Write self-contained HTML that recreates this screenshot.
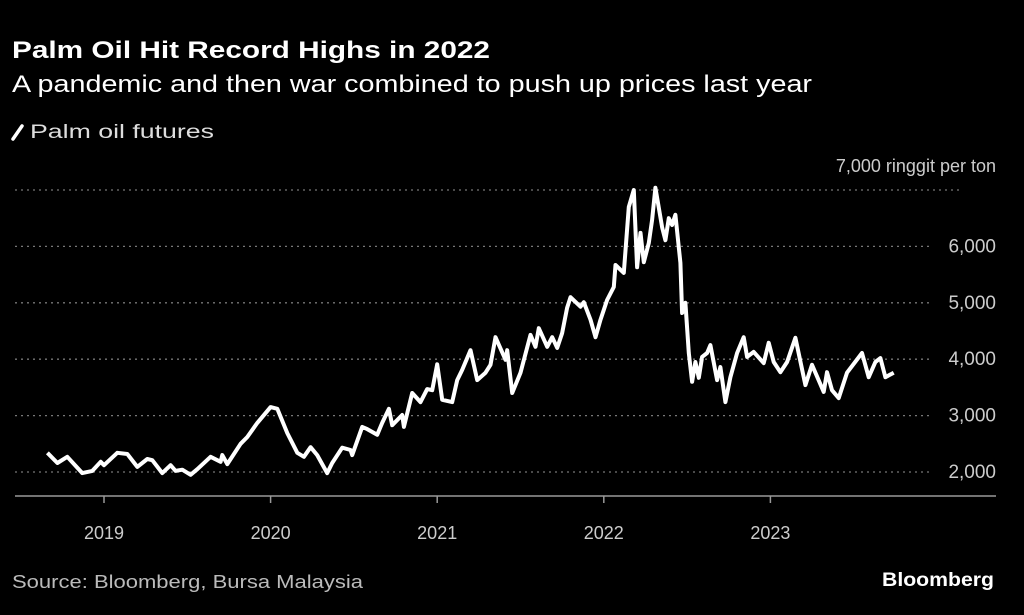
<!DOCTYPE html>
<html><head><meta charset="utf-8"><style>
html,body{margin:0;padding:0;background:#000;}
svg{display:block;font-family:"Liberation Sans",sans-serif;}
</style></head><body>
<svg id="chart" width="1024" height="615" viewBox="0 0 1024 615" xmlns="http://www.w3.org/2000/svg">
<rect width="1024" height="615" fill="#000"/>
<text x="12" y="58" fill="#fff" font-size="24" font-weight="bold" textLength="478" lengthAdjust="spacingAndGlyphs">Palm Oil Hit Record Highs in 2022</text>
<text x="12" y="92" fill="#fff" font-size="24" textLength="800" lengthAdjust="spacingAndGlyphs">A pandemic and then war combined to push up prices last year</text>
<g>
<line x1="13" y1="139" x2="22" y2="126" stroke="#fff" stroke-width="3.5" stroke-linecap="round"/>
<text x="30" y="138" fill="#ddd" font-size="19" textLength="184" lengthAdjust="spacingAndGlyphs">Palm oil futures</text>
</g>
<g id="grid"></g>
<g id="yl"></g>
<g id="xl"></g>
<path id="line" fill="none" stroke="#fff" stroke-width="4" stroke-linejoin="round"/>
<text x="12" y="588" fill="#bbb" font-size="18" textLength="351" lengthAdjust="spacingAndGlyphs">Source: Bloomberg, Bursa Malaysia</text>
<text x="994" y="586" fill="#fff" font-size="19" font-weight="bold" text-anchor="end" textLength="112" lengthAdjust="spacingAndGlyphs">Bloomberg</text>
</svg>
<script>
const dates=[2018.66,2018.72,2018.78,2018.87,2018.93,2018.98,2019.00,2019.08,2019.14,2019.20,2019.26,2019.29,2019.35,2019.40,2019.43,2019.47,2019.52,2019.56,2019.64,2019.70,2019.71,2019.74,2019.82,2019.86,2019.92,2020.00,2020.04,2020.10,2020.16,2020.20,2020.24,2020.28,2020.34,2020.37,2020.43,2020.48,2020.49,2020.55,2020.58,2020.64,2020.67,2020.71,2020.73,2020.79,2020.80,2020.85,2020.90,2020.94,2020.97,2021.00,2021.03,2021.09,2021.12,2021.15,2021.20,2021.24,2021.29,2021.32,2021.35,2021.41,2021.42,2021.45,2021.50,2021.56,2021.59,2021.61,2021.66,2021.69,2021.72,2021.75,2021.78,2021.80,2021.86,2021.88,2021.92,2021.95,2021.98,2022.02,2022.06,2022.07,2022.12,2022.15,2022.18,2022.20,2022.22,2022.24,2022.27,2022.29,2022.31,2022.35,2022.37,2022.39,2022.41,2022.43,2022.46,2022.47,2022.49,2022.51,2022.53,2022.55,2022.57,2022.59,2022.62,2022.64,2022.68,2022.70,2022.73,2022.76,2022.80,2022.84,2022.86,2022.90,2022.96,2022.99,2023.02,2023.06,2023.10,2023.15,2023.21,2023.25,2023.32,2023.34,2023.37,2023.41,2023.46,2023.55,2023.59,2023.63,2023.66,2023.69,2023.74];
const prices=[2340,2160,2270,1980,2020,2180,2120,2340,2320,2090,2230,2210,1980,2120,2020,2040,1950,2050,2270,2180,2300,2140,2500,2620,2870,3150,3120,2690,2340,2270,2440,2300,1980,2160,2430,2390,2300,2800,2760,2660,2870,3120,2830,3010,2800,3400,3240,3470,3450,3910,3280,3240,3630,3810,4160,3630,3760,3900,4390,3990,4160,3400,3760,4430,4220,4550,4220,4390,4200,4460,4910,5100,4930,5010,4700,4390,4700,5050,5280,5670,5530,6700,7000,5630,6240,5720,6060,6470,7040,6340,6110,6500,6380,6560,5710,4820,5000,4110,3600,3950,3670,4040,4110,4250,3630,3860,3240,3680,4110,4390,4040,4130,3930,4290,3950,3770,3950,4380,3540,3900,3420,3770,3450,3310,3760,4110,3680,3950,4020,3680,3760];
const yTicks=[2000,3000,4000,5000,6000,7000];
const yTickLabels=["2,000","3,000","4,000","5,000","6,000","7,000 ringgit per ton"];
const xTicks=[2019,2020,2021,2022,2023];
const xTickLabels=["2019","2020","2021","2022","2023"];
const NS="http://www.w3.org/2000/svg";
function X(d){return 104+(d-2019)*166.6;}
function Y(v){return 472-(v-2000)*0.0564;}
function mk(tag,attrs,parent){const e=document.createElementNS(NS,tag);for(const k in attrs)e.setAttribute(k,attrs[k]);parent.appendChild(e);return e;}
const grid=document.getElementById('grid'),yl=document.getElementById('yl'),xl=document.getElementById('xl');
yTicks.forEach((v,i)=>{
  const top=i===yTicks.length-1;
  const g=mk('line',{x1:15,x2:top?962:932,y1:Y(v),y2:Y(v),stroke:'#777','stroke-width':1.3,'stroke-dasharray':'2 4'},grid);
  
  
  const t=mk('text',{x:996,y:top?Y(v)-18:Y(v)+6,fill:'#ccc','font-size':top?18:19,'text-anchor':'end'},yl);
  t.textContent=yTickLabels[i];
  
  
});
const ax=mk('line',{x1:15,x2:996,y1:496,y2:496,stroke:'#999','stroke-width':1.5},grid);


xTicks.forEach((d,i)=>{
  const tk=mk('line',{x1:X(d),x2:X(d),y1:496,y2:503,stroke:'#999','stroke-width':1.5},xl);
  
  
  const t=mk('text',{x:X(d),y:539,fill:'#ccc','font-size':18,'text-anchor':'middle'},xl);
  t.textContent=xTickLabels[i];
  
  
});
document.getElementById('line').setAttribute('d',dates.map((d,i)=>(i?'L':'M')+X(d).toFixed(1)+','+Y(prices[i]).toFixed(1)).join(''));
</script>
</body></html>
